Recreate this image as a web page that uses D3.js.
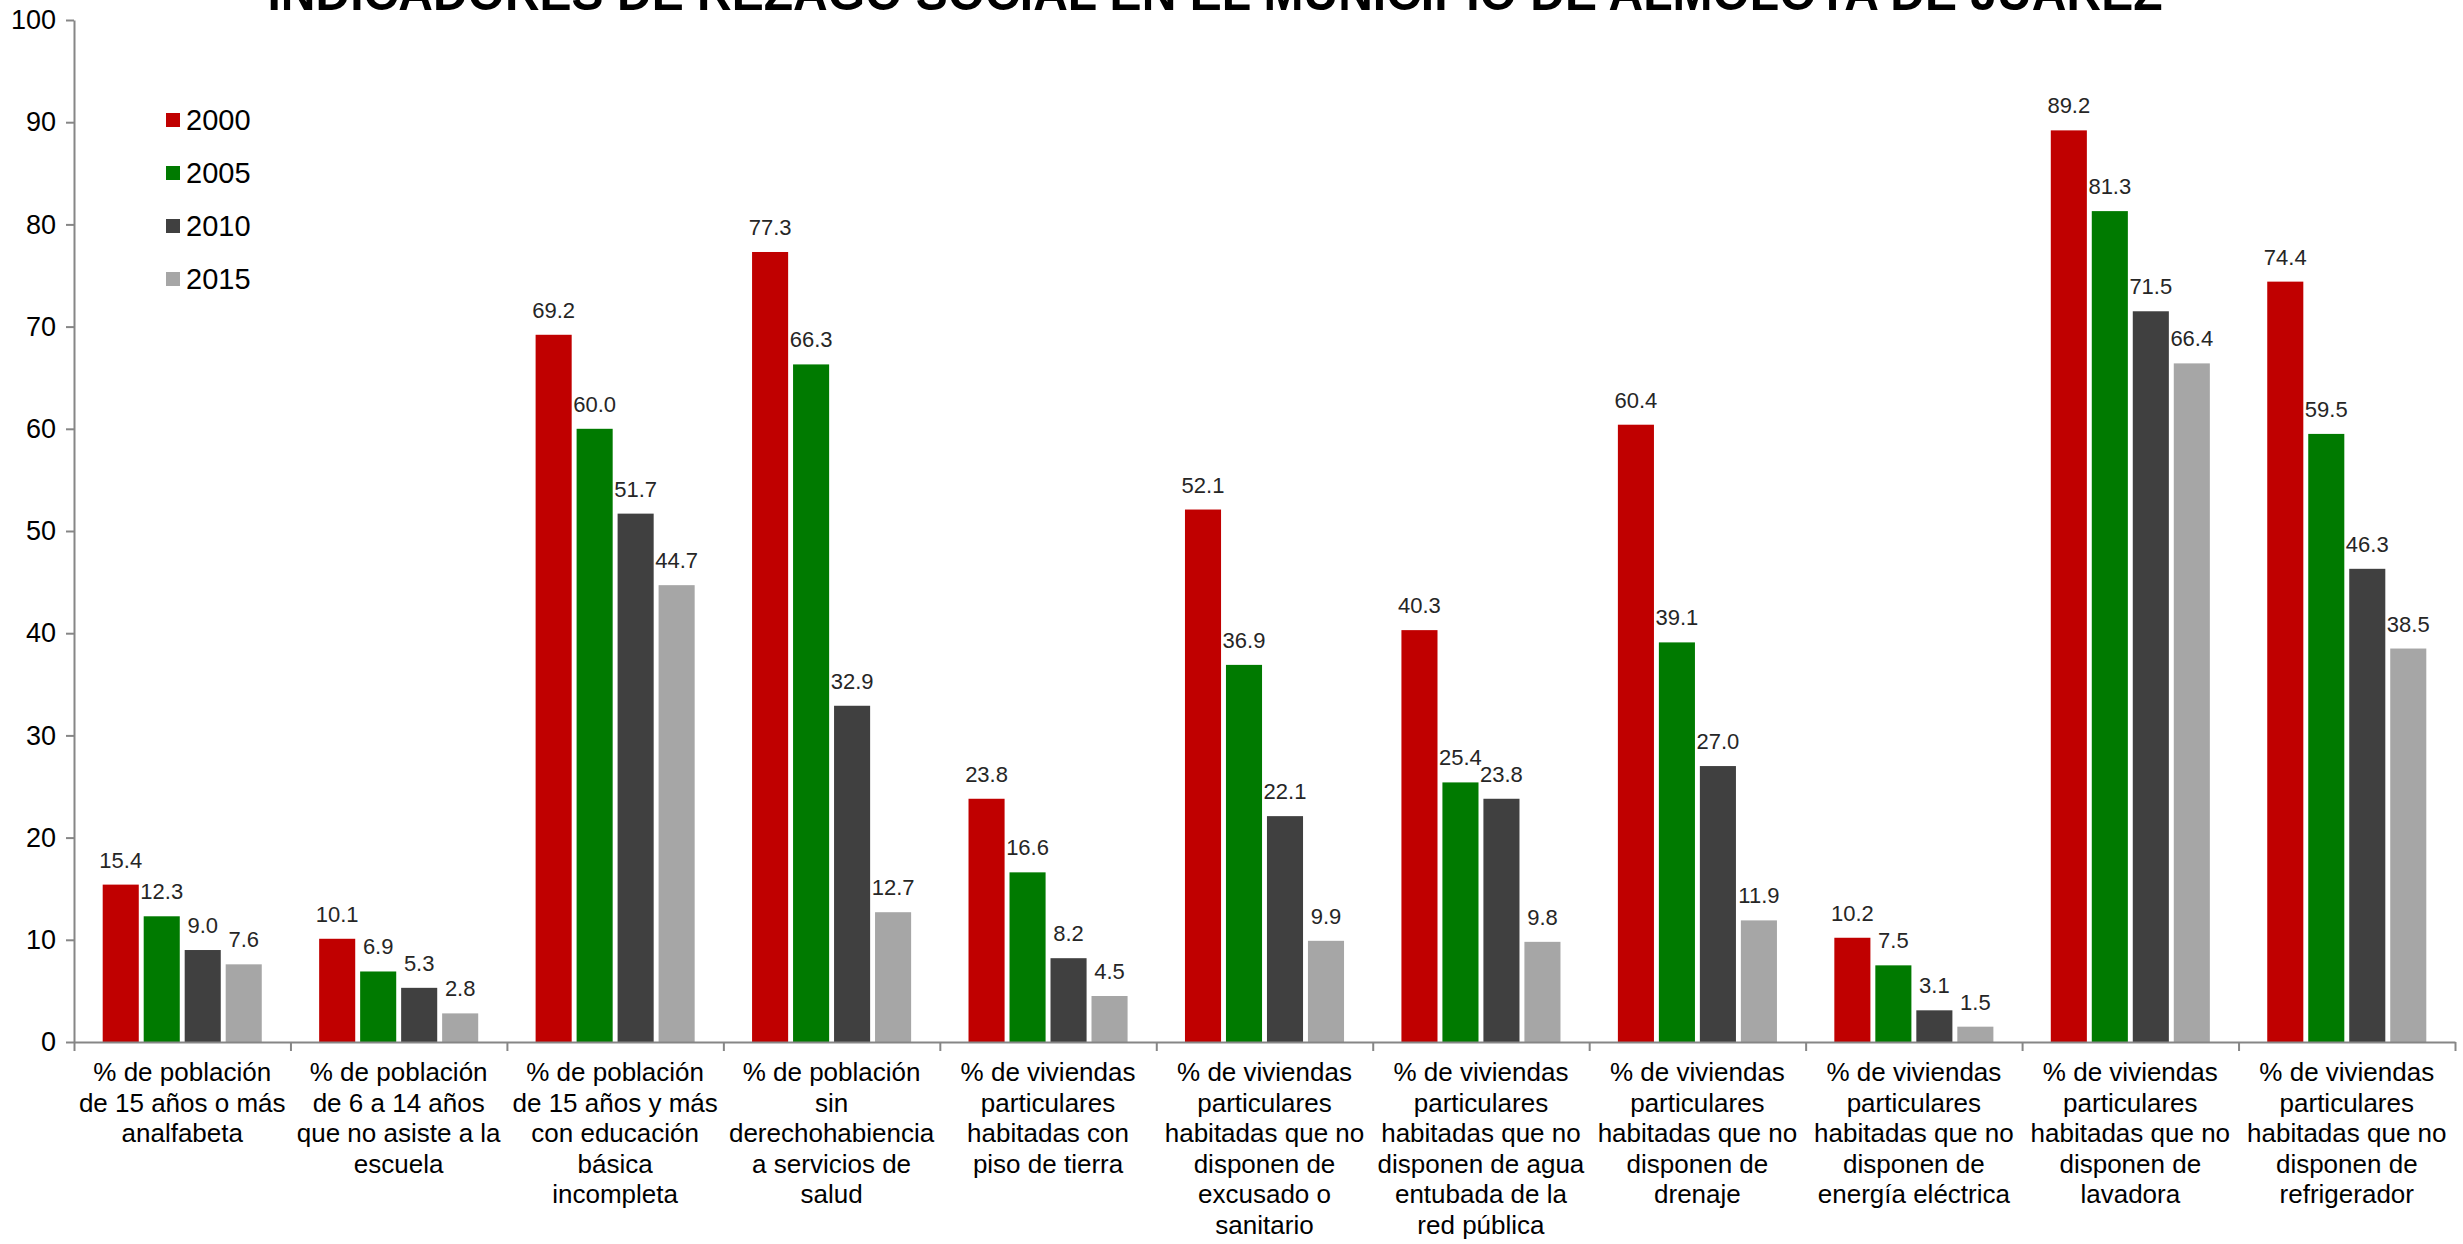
<!DOCTYPE html>
<html>
<head>
<meta charset="utf-8">
<script src="https://cdn.jsdelivr.net/npm/d3@7"></script>
<style>
  body { margin: 0; background: #fff; }
  text { font-family: 'Liberation Sans', Arial, sans-serif; }
</style>
</head>
<body>
<svg></svg>
<script>
const width = 2463
const height = 1244
const margin = { top: 20, right: 8, bottom: 202, left: 74 }

// datos
const years = ['2000', '2005', '2010', '2015']
const colors = ['#c00000', '#007a00', '#404040', '#a6a6a6']
const categories = [
  ['% de población', 'de 15 años o más', 'analfabeta'],
  ['% de población', 'de 6 a 14 años', 'que no asiste a la', 'escuela'],
  ['% de población', 'de 15 años y más', 'con educación', 'básica', 'incompleta'],
  ['% de población', 'sin', 'derechohabiencia', 'a servicios de', 'salud'],
  ['% de viviendas', 'particulares', 'habitadas con', 'piso de tierra'],
  ['% de viviendas', 'particulares', 'habitadas que no', 'disponen de', 'excusado o', 'sanitario'],
  ['% de viviendas', 'particulares', 'habitadas que no', 'disponen de agua', 'entubada de la', 'red pública'],
  ['% de viviendas', 'particulares', 'habitadas que no', 'disponen de', 'drenaje'],
  ['% de viviendas', 'particulares', 'habitadas que no', 'disponen de', 'energía eléctrica'],
  ['% de viviendas', 'particulares', 'habitadas que no', 'disponen de', 'lavadora'],
  ['% de viviendas', 'particulares', 'habitadas que no', 'disponen de', 'refrigerador']
]
const v2000 = [15.4, 10.1, 69.2, 77.3, 23.8, 52.1, 40.3, 60.4, 10.2, 89.2, 74.4]
const v2005 = [12.3, 6.9, 60.0, 66.3, 16.6, 36.9, 25.4, 39.1, 7.5, 81.3, 59.5]
const v2010 = [9.0, 5.3, 51.7, 32.9, 8.2, 22.1, 23.8, 27.0, 3.1, 71.5, 46.3]
const v2015 = [7.6, 2.8, 44.7, 12.7, 4.5, 9.9, 9.8, 11.9, 1.5, 66.4, 38.5]
const yTicks = [0, 10, 20, 30, 40, 50, 60, 70, 80, 90, 100]
const title = 'INDICADORES DE REZAGO SOCIAL EN EL MUNICIPIO DE ALMOLOYA DE JUÁREZ'

const series = [v2000, v2005, v2010, v2015]

const svg = d3.select('svg')
  .attr('width', width)
  .attr('height', height)
  .attr('viewBox', [0, 0, width, height])

const x0 = d3.scaleBand()
  .domain(d3.range(categories.length))
  .range([margin.left, width - margin.right])

const x1 = d3.scaleBand()
  .domain(d3.range(years.length))
  .range([0, x0.bandwidth()])
  .paddingInner(0.12)
  .paddingOuter(0.7)

const y = d3.scaleLinear()
  .domain([0, 100])
  .range([height - margin.bottom, margin.top])

// titulo (cortado arriba, como en el original)
svg.append('text')
  .text(title)
  .attr('x', 1215)
  .attr('y', 10)
  .attr('text-anchor', 'middle')
  .attr('font-size', 50)
  .attr('font-weight', 'bold')
  .attr('textLength', 1895)
  .attr('lengthAdjust', 'spacingAndGlyphs')

// eje Y
svg.append('g')
  .attr('transform', 'translate(' + margin.left + ',0)')
  .call(d3.axisLeft(y).tickValues(yTicks).tickSize(8).tickPadding(10).tickSizeOuter(0))
  .call(g => g.selectAll('.domain, .tick line').attr('stroke', '#868686').attr('stroke-width', 2))
  .call(g => g.selectAll('.tick text').attr('font-size', 27).attr('fill', '#000').attr('font-family', null))

// barras
const groups = svg.append('g')
  .selectAll('g')
  .data(categories)
  .join('g')
  .attr('transform', (d, i) => 'translate(' + x0(i) + ',0)')

groups.selectAll('rect')
  .data((d, i) => series.map((s, k) => ({ k, v: s[i] })))
  .join('rect')
  .attr('x', d => x1(d.k))
  .attr('y', d => y(d.v))
  .attr('width', x1.bandwidth())
  .attr('height', d => y(0) - y(d.v))
  .attr('fill', d => colors[d.k])

groups.selectAll('text.val')
  .data((d, i) => series.map((s, k) => ({ k, v: s[i] })))
  .join('text')
  .attr('class', 'val')
  .text(d => d.v.toFixed(1))
  .attr('x', d => x1(d.k) + x1.bandwidth() / 2)
  .attr('y', d => y(d.v) - 17)
  .attr('text-anchor', 'middle')
  .attr('font-size', 22)
  .attr('fill', '#262626')

// eje X
const xb = d3.scaleLinear()
  .domain([0, categories.length])
  .range([margin.left, width - margin.right])

svg.append('g')
  .attr('transform', 'translate(0,' + y(0) + ')')
  .call(d3.axisBottom(xb).tickValues(d3.range(categories.length + 1)).tickFormat('').tickSize(9).tickSizeOuter(0))
  .call(g => g.selectAll('.domain, .tick line').attr('stroke', '#868686').attr('stroke-width', 2))

// etiquetas de categorias
groups.append('text')
  .attr('text-anchor', 'middle')
  .attr('font-size', 26)
  .attr('fill', '#000')
  .selectAll('tspan')
  .data(d => d)
  .join('tspan')
  .attr('x', x0.bandwidth() / 2)
  .attr('y', (d, i) => y(0) + 39 + i * 30.5)
  .text(d => d)

// leyenda
const legend = svg.append('g')
  .selectAll('g')
  .data(years)
  .join('g')
  .attr('transform', (d, i) => 'translate(166,' + (120 + i * 53) + ')')

legend.append('rect')
  .attr('x', 0)
  .attr('y', -7)
  .attr('width', 14)
  .attr('height', 14)
  .attr('fill', (d, i) => colors[i])

legend.append('text')
  .text(d => d)
  .attr('x', 20)
  .attr('y', 10)
  .attr('font-size', 29)
  .attr('fill', '#000')
</script>
</body>
</html>
